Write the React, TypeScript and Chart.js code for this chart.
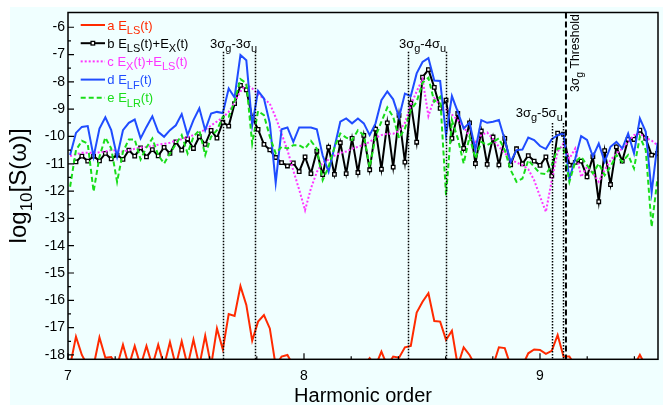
import React, { useEffect, useRef } from "react";
import { Chart, registerables } from "chart.js";

Chart.register(...registerables);

const FONT = '"Liberation Sans", Arial, Helvetica, sans-serif';

// Harmonic-order sampling grid
const X_FIRST = 7.0089;
const X_STEP = 0.02489;

// a  E_LS(t)
const seriesA = [
  -18.4, -17.33, -18.0, -18.4, -18.4, -17.36, -18.1, -18.08, -18.4, -17.63,
  -18.4, -17.67, -18.4, -17.67, -18.4, -17.63, -18.4, -17.53, -18.4, -17.5,
  -18.4, -17.44, -18.4, -17.3, -18.4, -17.03, -17.8, -16.5, -16.57, -15.48,
  -16.17, -17.48, -16.78, -16.54, -17.03, -18.4, -18.06, -18.0, -18.4, -18.4,
  -18.4, -18.4, -18.4, -18.4, -18.4, -18.4, -18.4, -18.4, -18.4, -18.4,
  -18.4, -18.12, -18.4, -17.88, -18.4, -18.06, -18.1, -17.72, -17.67, -16.45,
  -16.05, -15.74, -16.76, -16.78, -17.45, -17.11, -18.4, -17.72, -18.0, -18.4,
  -18.4, -18.4, -18.4, -17.72, -17.75, -18.4, -18.4, -18.4, -17.94, -17.8,
  -17.82, -17.96, -17.85, -17.27, -18.06, -18.06, -18.4, -18.4, -18.4, -18.4,
  -18.4, -18.4, -18.4, -18.4, -18.4, -18.4, -18.4, -18.0, -18.4, -18.4,
  -18.4, -18.4,
];

// b  E_LS(t)+E_X(t)
const seriesB = [
  null, -10.93, -10.72, -10.9, -10.72, -10.89, -10.62, -10.82, -10.68, -10.84,
  -10.5, -10.72, -10.42, -10.75, -10.48, -10.71, -10.4, -10.62, -10.2, -10.5,
  -10.09, -10.44, -10.01, -10.29, -9.78, -10.06, -9.48, -9.62, -8.8, -8.13,
  -8.29, -9.3, -9.74, -10.29, -10.49, -10.77, -10.96, -11.08, -10.97, -11.29,
  -10.75, -11.36, -10.54, -11.4, -10.39, -11.39, -10.23, -11.36, -10.07, -11.32,
  -9.96, -11.22, -9.73, -11.2, -9.5, -11.12, -9.23, -10.94, -8.78, -10.21,
  -7.83, -7.55, -8.2, -8.97, -8.67, -10.07, -9.16, -10.44, -9.5, -10.99,
  -9.8, -11.02, -10.02, -11.04, -10.07, -11.04, -10.45, -11.0, -10.7, -10.9,
  -11.06, -10.75, -11.44, -9.88, -9.92, -11.05, -10.95, -10.9, -11.48, -10.74,
  -12.39, -10.52, -11.76, -10.38, -10.9, -10.11, -10.11, -9.77, -10.07, -10.68,
  -10.62, -10.62,
];

// c  E_X(t)+E_LS(t)
const seriesC = [
  -10.72, -10.65, -10.6, -10.6, -10.6, -10.58, -10.55, -10.5, -10.52, -10.56,
  -10.5, -10.45, -10.4, -10.38, -10.35, -10.3, -10.27, -10.23, -10.15, -10.1,
  -10.02, -9.95, -9.85, -9.75, -9.6, -9.45, -9.3, -9.1, -8.75, -8.35,
  -8.1, -8.24, -8.45, -8.62, -8.8, -9.3, -9.9, -10.5, -11.25, -11.95,
  -12.7, -11.9, -11.3, -10.95, -10.85, -10.7, -10.6, -10.55, -10.45, -10.38,
  -10.3, -10.2, -10.05, -9.95, -9.9, -9.9, -9.8, -9.5, -8.85, -8.35,
  -7.9, -9.25, -8.6, -8.85, -9.0, -9.2, -9.4, -9.65, -10.0, -10.2,
  -9.95, -9.85, -10.1, -10.38, -10.6, -10.85, -10.95, -11.05, -11.2, -11.6,
  -12.2, -12.76, -11.6, -10.56, -10.26, -10.81, -10.44, -11.48, -11.11, -11.35,
  -11.66, -11.23, -10.87, -10.62, -10.44, -10.2, -9.95, -9.9, -10.05, -10.15,
  -10.32, -10.35,
];

// d  E_LF(t)
const seriesD = [
  -10.68, -9.87, -9.65, -9.62, -10.74, -9.71, -9.3, -9.77, -10.74, -9.77,
  -9.5, -9.38, -10.07, -9.65, -9.26, -9.83, -10.01, -9.77, -9.59, -9.18,
  -9.95, -9.4, -8.97, -9.77, -9.16, -9.1, -9.14, -8.24, -8.57, -7.02,
  -7.21, -9.59, -8.33, -8.61, -9.52, -11.7, -9.74, -9.67, -10.2, -9.67,
  -9.67, -9.67, -9.74, -10.7, -11.29, -10.4, -9.46, -9.34, -9.52, -9.34,
  -9.52, -9.95, -9.52, -8.67, -8.35, -8.64, -9.3, -8.43, -8.52, -7.69,
  -7.27, -7.13, -7.95, -7.97, -9.95, -8.52, -9.1, -9.71, -9.5, -10.48,
  -9.4, -9.5, -9.46, -9.4, -10.13, -10.93, -10.5, -10.48, -10.04, -10.13,
  -10.35, -10.46, -10.1, -9.95, -9.89, -11.55, -10.81, -9.99, -10.13, -10.74,
  -10.26, -10.93, -10.38, -10.2, -10.44, -9.89, -10.62, -9.34, -9.83, -12.05,
  -10.26, -10.2,
];

// e  E_LR(t)
const seriesE = [
  -11.84, -10.5, -10.16, -10.26, -12.02, -10.74, -10.04, -10.44, -11.66, -10.56,
  -10.11, -10.11, -10.84, -10.4, -10.07, -10.68, -10.99, -10.62, -10.28, -9.95,
  -10.62, -10.01, -9.77, -10.68, -10.01, -9.77, -9.28, -9.28, -8.7, -7.9,
  -8.05, -10.26, -9.07, -9.22, -10.01, -10.62, -10.38, -10.44, -10.32, -10.32,
  -10.44, -10.16, -10.45, -11.6, -11.11, -10.4, -9.89, -10.04, -10.13, -9.77,
  -9.95, -11.13, -10.0, -9.46, -8.94, -9.28, -10.07, -9.71, -9.04, -8.73,
  -8.03, -7.85, -8.73, -8.55, -12.15, -9.4, -10.07, -10.99, -10.01, -10.81,
  -10.2, -10.32, -10.2, -10.07, -10.5, -11.23, -11.66, -11.54, -10.87, -11.11,
  -11.35, -11.38, -11.05, -10.44, -10.44, -11.66, -10.93, -10.74, -11.05, -11.35,
  -10.99, -11.42, -11.11, -10.68, -10.93, -10.68, -11.17, -10.01, -10.5, -13.31,
  -11.54, -11.5,
];

const X_TICKS = [7, 8, 9];
const Y_TICKS = [-18, -17, -16, -15, -14, -13, -12, -11, -10, -9, -8, -7, -6];

// transition lines (harmonic order) and the value where each dotted line starts
const levelLinesX = [7.655, 7.792, 8.442, 8.602, 9.05, 9.097];
const levelLinesTop = [-6.9, -6.9, -6.9, -6.9, -9.51, -9.51];
const thresholdX = 9.11;

type Part = [string, number];
const levelLabels: { parts: Part[]; x: number; y: number }[] = [
  { parts: [["3σ", 0], ["g", 1], ["-3σ", 0], ["u", 1]], x: 7.602, y: -6.75 },
  { parts: [["3σ", 0], ["g", 1], ["-4σ", 0], ["u", 1]], x: 8.4025, y: -6.75 },
  { parts: [["3σ", 0], ["g", 1], ["-5σ", 0], ["u", 1]], x: 8.897, y: -9.27 },
];
const thresholdLabel: Part[] = [["3σ", 0], ["g", 1], [" Threshold", 0]];

const COLORS = {
  a: "#ff2a00",
  b: "#000000",
  c: "#ff33ff",
  d: "#1f4cff",
  e: "#19dd19",
};

const legendItems: { parts: Part[]; color: string; dash: number[]; marker: boolean }[] = [
  { parts: [["a E", 0], ["LS", 1], ["(t)", 0]], color: COLORS.a, dash: [], marker: false },
  { parts: [["b E", 0], ["LS", 1], ["(t)+E", 0], ["X", 1], ["(t)", 0]], color: COLORS.b, dash: [], marker: true },
  { parts: [["c E", 0], ["X", 1], ["(t)+E", 0], ["LS", 1], ["(t)", 0]], color: COLORS.c, dash: [2, 2], marker: false },
  { parts: [["d E", 0], ["LF", 1], ["(t)", 0]], color: COLORS.d, dash: [], marker: false },
  { parts: [["e E", 0], ["LR", 1], ["(t)", 0]], color: COLORS.e, dash: [5, 3], marker: false },
];

const toPoints = (ys: (number | null)[]) =>
  ys.map((v, i) => ({ x: X_FIRST + i * X_STEP, y: v }));

function richWidth(ctx: CanvasRenderingContext2D, parts: Part[], size: number, subSize: number) {
  let w = 0;
  for (const [t, k] of parts) {
    ctx.font = `${k ? subSize : size}px ${FONT}`;
    w += ctx.measureText(t).width;
  }
  return w;
}

function drawRich(
  ctx: CanvasRenderingContext2D,
  parts: Part[],
  x: number,
  y: number,
  size: number,
  subSize: number,
  subShift: number,
  color: string
) {
  let cx = x;
  ctx.fillStyle = color;
  ctx.textAlign = "left";
  ctx.textBaseline = "alphabetic";
  for (const [t, k] of parts) {
    ctx.font = `${k ? subSize : size}px ${FONT}`;
    ctx.fillText(t, cx, k ? y + subShift : y);
    cx += ctx.measureText(t).width;
  }
}

const decorPlugin = {
  id: "decor",
  beforeDraw(chart: any) {
    const ctx = chart.ctx as CanvasRenderingContext2D;
    ctx.save();
    ctx.fillStyle = "#ffffff";
    ctx.fillRect(0, 0, chart.width, chart.height);
    ctx.fillStyle = "#f0ffff";
    ctx.fillRect(10, 7, 653, 398);
    ctx.restore();
  },
  afterDatasetsDraw(chart: any) {
    const ctx = chart.ctx as CanvasRenderingContext2D;
    const a = chart.chartArea;
    const xs = chart.scales.x;
    const ys = chart.scales.y;
    ctx.save();

    // dotted transition lines
    ctx.strokeStyle = "#000";
    ctx.lineWidth = 1.5;
    ctx.setLineDash([1.5, 1.5]);
    levelLinesX.forEach((xv, i) => {
      const px = Math.round(xs.getPixelForValue(xv)) + 0.5;
      ctx.beginPath();
      ctx.moveTo(px, ys.getPixelForValue(levelLinesTop[i]));
      ctx.lineTo(px, a.bottom);
      ctx.stroke();
    });
    // dashed threshold
    ctx.lineWidth = 2;
    ctx.setLineDash([6, 3]);
    const tx = xs.getPixelForValue(thresholdX);
    ctx.beginPath();
    ctx.moveTo(tx, a.top);
    ctx.lineTo(tx, a.bottom);
    ctx.stroke();
    ctx.setLineDash([]);

    // frame
    ctx.lineWidth = 1.5;
    ctx.strokeRect(a.left, a.top, a.right - a.left, a.bottom - a.top);

    // inward ticks
    ctx.lineWidth = 1.2;
    ctx.beginPath();
    for (let v = -18; v <= -6; v += 0.5) {
      const py = ys.getPixelForValue(v);
      const len = Number.isInteger(v) ? 6 : 3;
      ctx.moveTo(a.left, py);
      ctx.lineTo(a.left + len, py);
    }
    for (let k = 0; k <= 12; k++) {
      const v = 7 + k * 0.2;
      const px = xs.getPixelForValue(v);
      const len = k % 5 === 0 ? 6 : 3;
      ctx.moveTo(px, a.bottom);
      ctx.lineTo(px, a.bottom - len);
    }
    ctx.stroke();

    // level labels
    levelLabels.forEach((l) => {
      drawRich(ctx, l.parts, xs.getPixelForValue(l.x), ys.getPixelForValue(l.y), 13, 11, 4.5, "#000");
    });
    // threshold label (rotated)
    ctx.save();
    ctx.translate(xs.getPixelForValue(9.165), ys.getPixelForValue(-8.37));
    ctx.rotate(-Math.PI / 2);
    drawRich(ctx, thresholdLabel, 0, 0, 12.2, 10.5, 4.5, "#000");
    ctx.restore();

    // legend
    legendItems.forEach((item, i) => {
      const y = a.top + 12.5 + i * 18.2;
      const x0 = a.left + 12.7;
      const x1 = a.left + 37;
      ctx.strokeStyle = item.color;
      ctx.lineWidth = 2;
      ctx.setLineDash(item.dash);
      ctx.beginPath();
      ctx.moveTo(x0, y);
      ctx.lineTo(x1, y);
      ctx.stroke();
      ctx.setLineDash([]);
      if (item.marker) {
        const mx = (x0 + x1) / 2;
        ctx.fillStyle = "#fff";
        ctx.fillRect(mx - 1.8, y - 1.8, 3.6, 3.6);
        ctx.lineWidth = 1.3;
        ctx.strokeRect(mx - 1.8, y - 1.8, 3.6, 3.6);
      }
      drawRich(ctx, item.parts, a.left + 39.3, y + 4.5, 13, 11, 4.5, item.color);
    });

    // axis titles
    const midX = (a.left + a.right) / 2;
    ctx.fillStyle = "#000";
    ctx.font = `20px ${FONT}`;
    ctx.textAlign = "center";
    ctx.textBaseline = "alphabetic";
    ctx.fillText("Harmonic order", midX, 401.5);

    const yParts: Part[] = [["log", 0], ["10", 1], ["[S(ω)]", 0]];
    const w = richWidth(ctx, yParts, 24, 17);
    ctx.save();
    ctx.translate(26, (a.top + a.bottom) / 2);
    ctx.rotate(-Math.PI / 2);
    drawRich(ctx, yParts, -w / 2, 0, 24, 17, 6, "#000");
    ctx.restore();

    ctx.restore();
  },
};

export default function App() {
  const ref = useRef<HTMLCanvasElement>(null);
  useEffect(() => {
    const tickFont = { family: FONT, size: 14 };
    const chart = new Chart(ref.current as HTMLCanvasElement, {
      type: "line",
      data: {
        datasets: [
          {
            label: "a",
            data: toPoints(seriesA),
            borderColor: COLORS.a,
            borderWidth: 2,
            pointRadius: 0,
            order: 5,
          },
          {
            label: "b",
            data: toPoints(seriesB),
            borderColor: COLORS.b,
            borderWidth: 2,
            pointRadius: 2.5,
            pointStyle: "rect",
            pointBackgroundColor: "#ffffff",
            pointBorderColor: "#000000",
            pointBorderWidth: 1.3,
            order: 4,
          },
          {
            label: "c",
            data: toPoints(seriesC),
            borderColor: COLORS.c,
            borderWidth: 2,
            borderDash: [2, 2],
            pointRadius: 0,
            order: 3,
          },
          {
            label: "d",
            data: toPoints(seriesD),
            borderColor: COLORS.d,
            borderWidth: 2,
            pointRadius: 0,
            order: 2,
          },
          {
            label: "e",
            data: toPoints(seriesE),
            borderColor: COLORS.e,
            borderWidth: 2,
            borderDash: [5, 3],
            pointRadius: 0,
            order: 1,
          },
        ] as any,
      },
      options: {
        animation: false,
        responsive: false,
        maintainAspectRatio: false,
        devicePixelRatio: 1,
        layout: { padding: { left: 0, top: 12.5, right: 9, bottom: 0 } },
        plugins: { legend: { display: false }, tooltip: { enabled: false } },
        elements: { line: { tension: 0, fill: false } },
        datasets: { line: { clip: 0 } } as any,
        scales: {
          x: {
            type: "linear",
            min: 7,
            max: 9.5,
            grid: { display: false, drawTicks: false },
            border: { display: false },
            afterBuildTicks: (s: any) => {
              s.ticks = X_TICKS.map((v) => ({ value: v }));
            },
            afterFit: (s: any) => {
              s.height = 45.7;
            },
            ticks: {
              font: tickFont,
              color: "#000",
              padding: 8,
              maxRotation: 0,
              autoSkip: false,
              callback: (v: any) => String(v),
            },
          },
          y: {
            type: "linear",
            min: -18.16,
            max: -5.46,
            grid: { display: false, drawTicks: false },
            border: { display: false },
            afterBuildTicks: (s: any) => {
              s.ticks = Y_TICKS.map((v) => ({ value: v }));
            },
            afterFit: (s: any) => {
              s.width = 68;
            },
            ticks: {
              font: tickFont,
              color: "#000",
              padding: 3,
              autoSkip: false,
              callback: (v: any) => String(v),
            },
          },
        },
      } as any,
      plugins: [decorPlugin],
    });
    return () => chart.destroy();
  }, []);
  return (
    <div style={{ position: "fixed", left: 0, top: 0, width: 667, height: 405, background: "#fff" }}>
      <canvas ref={ref} width={667} height={405} style={{ display: "block", width: 667, height: 405 }} />
    </div>
  );
}
